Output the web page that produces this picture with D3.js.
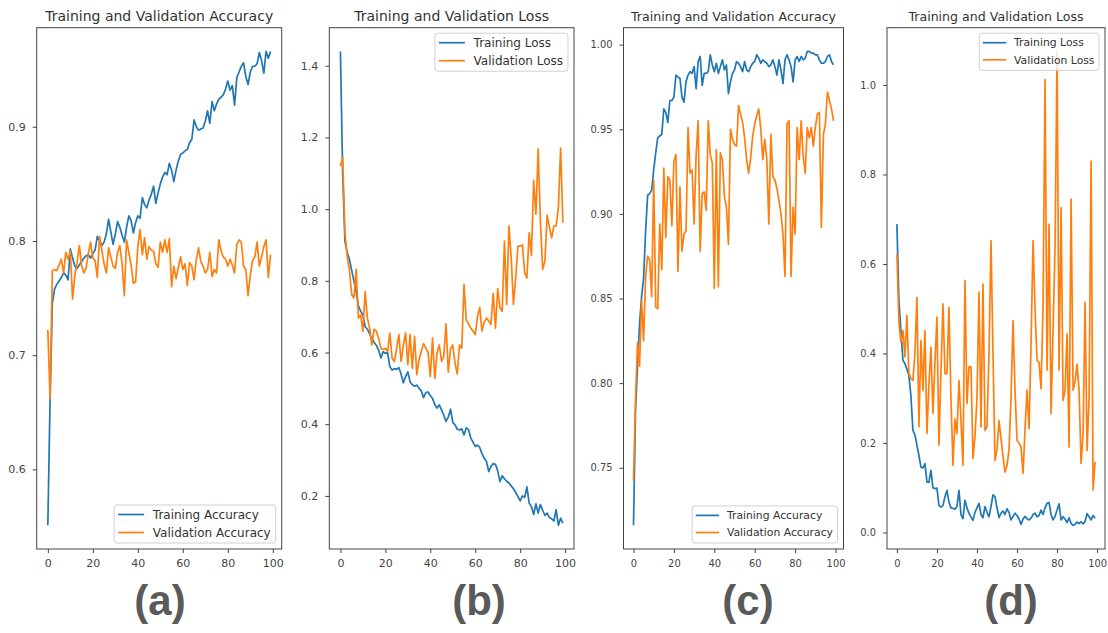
<!DOCTYPE html>
<html>
<head>
<meta charset="utf-8">
<script src="https://cdn.jsdelivr.net/npm/d3@7"></script>
<style>
  body { margin: 0; background: #fff; }
  svg { display: block; font-family: "DejaVu Sans", sans-serif; }
</style>
</head>
<body>
<svg id="chart" width="1108" height="633"></svg>
<script>
// epoch index on the x axis
var epochs = d3.range(100);

// (a) accuracy, first model
var trainAccA = [0.551,0.662,0.745,0.758,0.762,0.765,0.768,0.772,0.770,0.766,
  0.793,0.785,0.778,0.776,0.779,0.782,0.785,0.787,0.788,0.785,
  0.789,0.792,0.804,0.800,0.796,0.799,0.806,0.819,0.808,0.797,
  0.806,0.817,0.812,0.805,0.799,0.812,0.822,0.818,0.807,0.816,
  0.822,0.820,0.838,0.832,0.829,0.836,0.841,0.848,0.833,0.842,
  0.850,0.856,0.860,0.858,0.868,0.862,0.852,0.862,0.870,0.876,
  0.877,0.879,0.880,0.886,0.889,0.906,0.900,0.897,0.898,0.899,
  0.905,0.914,0.903,0.922,0.914,0.920,0.924,0.926,0.928,0.933,
  0.940,0.932,0.936,0.919,0.943,0.948,0.953,0.956,0.944,0.937,
  0.948,0.953,0.953,0.955,0.965,0.958,0.947,0.966,0.960,0.966];
var valAccA = [0.722,0.662,0.774,0.775,0.774,0.779,0.784,0.772,0.790,0.784,
  0.791,0.749,0.770,0.781,0.796,0.779,0.772,0.776,0.789,0.799,
  0.785,0.783,0.768,0.804,0.792,0.780,0.772,0.794,0.786,0.778,
  0.776,0.790,0.796,0.780,0.752,0.801,0.790,0.779,0.763,0.764,
  0.795,0.810,0.788,0.803,0.784,0.795,0.792,0.791,0.780,0.777,
  0.799,0.790,0.801,0.790,0.802,0.760,0.778,0.767,0.777,0.786,
  0.775,0.780,0.761,0.781,0.778,0.766,0.784,0.794,0.782,0.778,
  0.772,0.775,0.790,0.769,0.775,0.772,0.801,0.791,0.786,0.784,
  0.778,0.784,0.779,0.772,0.797,0.801,0.799,0.778,0.775,0.752,
  0.770,0.783,0.786,0.799,0.778,0.786,0.795,0.801,0.768,0.788];

// (b) loss, first model
var trainLossB = [1.440,1.100,0.911,0.880,0.860,0.830,0.800,0.770,0.730,0.715,
  0.705,0.672,0.665,0.652,0.640,0.628,0.620,0.607,0.585,0.602,
  0.598,0.600,0.560,0.551,0.555,0.553,0.558,0.540,0.515,0.533,
  0.546,0.518,0.510,0.506,0.509,0.500,0.493,0.474,0.488,0.490,
  0.480,0.472,0.455,0.445,0.454,0.440,0.425,0.408,0.420,0.442,
  0.405,0.398,0.386,0.384,0.387,0.370,0.390,0.385,0.362,0.350,
  0.338,0.342,0.335,0.318,0.305,0.296,0.268,0.282,0.290,0.288,
  0.270,0.240,0.256,0.248,0.241,0.236,0.228,0.220,0.210,0.198,
  0.186,0.200,0.196,0.225,0.180,0.170,0.148,0.178,0.152,0.176,
  0.160,0.146,0.152,0.140,0.136,0.130,0.162,0.118,0.138,0.124];
var valLossB = [1.120,1.145,0.935,0.870,0.830,0.762,0.752,0.832,0.696,0.705,
  0.659,0.770,0.696,0.668,0.621,0.665,0.659,0.640,0.612,0.608,
  0.612,0.603,0.654,0.584,0.575,0.610,0.650,0.575,0.621,0.655,
  0.566,0.650,0.556,0.645,0.538,0.580,0.603,0.625,0.612,0.600,
  0.533,0.640,0.528,0.600,0.621,0.575,0.590,0.680,0.545,0.610,
  0.621,0.570,0.540,0.621,0.612,0.790,0.690,0.680,0.668,0.660,
  0.650,0.700,0.726,0.660,0.685,0.696,0.688,0.678,0.765,0.668,
  0.778,0.725,0.715,0.911,0.734,0.953,0.864,0.734,0.808,0.897,
  0.897,0.900,0.822,0.808,0.934,0.870,1.080,0.986,1.168,0.967,
  0.832,0.855,0.983,0.950,0.920,0.953,0.953,1.005,1.170,0.962];

// (c) accuracy, second model
var trainAccC = [0.716,0.784,0.810,0.835,0.851,0.862,0.890,0.911,0.912,0.914,
  0.926,0.936,0.945,0.946,0.947,0.962,0.960,0.954,0.967,0.967,
  0.969,0.982,0.981,0.980,0.969,0.966,0.978,0.982,0.984,0.983,
  0.987,0.974,0.990,0.993,0.976,0.983,0.983,0.984,0.994,0.988,
  0.984,0.989,0.983,0.987,0.991,0.985,0.988,0.971,0.978,0.983,
  0.985,0.990,0.989,0.987,0.984,0.990,0.985,0.984,0.987,0.989,
  0.990,0.994,0.992,0.989,0.991,0.990,0.989,0.987,0.988,0.991,
  0.987,0.982,0.991,0.985,0.977,0.991,0.994,0.991,0.987,0.978,
  0.991,0.993,0.990,0.993,0.991,0.992,0.996,0.996,0.995,0.995,
  0.994,0.994,0.991,0.989,0.989,0.990,0.993,0.994,0.990,0.988];
var valAccC = [0.742,0.790,0.824,0.810,0.849,0.825,0.863,0.875,0.873,0.851,
  0.920,0.845,0.844,0.894,0.867,0.927,0.886,0.922,0.920,0.893,
  0.931,0.935,0.866,0.916,0.878,0.888,0.890,0.951,0.924,0.926,
  0.894,0.935,0.955,0.878,0.912,0.913,0.902,0.955,0.935,0.930,
  0.856,0.938,0.857,0.936,0.932,0.910,0.904,0.882,0.950,0.944,
  0.941,0.940,0.964,0.959,0.954,0.945,0.932,0.924,0.933,0.946,
  0.953,0.958,0.962,0.950,0.932,0.944,0.932,0.894,0.947,0.922,
  0.920,0.915,0.908,0.900,0.888,0.863,0.953,0.955,0.863,0.904,
  0.888,0.951,0.932,0.955,0.934,0.924,0.951,0.945,0.951,0.940,
  0.951,0.959,0.960,0.892,0.947,0.953,0.972,0.967,0.962,0.955];

// (d) loss, second model
var trainLossD = [0.689,0.518,0.451,0.385,0.377,0.365,0.350,0.305,0.228,0.218,
  0.195,0.172,0.146,0.144,0.154,0.113,0.112,0.139,0.100,0.098,
  0.099,0.060,0.057,0.060,0.080,0.094,0.068,0.055,0.054,0.052,
  0.058,0.094,0.040,0.031,0.072,0.055,0.043,0.035,0.027,0.045,
  0.055,0.065,0.040,0.033,0.058,0.045,0.035,0.058,0.084,0.080,
  0.055,0.033,0.043,0.048,0.040,0.053,0.045,0.028,0.036,0.043,
  0.038,0.030,0.018,0.030,0.036,0.031,0.028,0.032,0.040,0.043,
  0.035,0.038,0.050,0.040,0.055,0.065,0.067,0.040,0.028,0.036,
  0.050,0.064,0.028,0.035,0.030,0.022,0.033,0.020,0.016,0.018,
  0.023,0.020,0.024,0.019,0.025,0.042,0.035,0.028,0.038,0.032];
var valLossD = [0.622,0.470,0.425,0.451,0.392,0.485,0.355,0.344,0.340,0.400,
  0.525,0.236,0.429,0.317,0.451,0.221,0.330,0.414,0.266,0.380,
  0.481,0.195,0.360,0.511,0.355,0.355,0.503,0.300,0.150,0.254,
  0.221,0.340,0.250,0.150,0.563,0.288,0.370,0.370,0.165,0.215,
  0.300,0.537,0.236,0.555,0.228,0.236,0.400,0.652,0.400,0.161,
  0.184,0.250,0.210,0.170,0.135,0.150,0.184,0.300,0.473,0.318,
  0.206,0.200,0.191,0.132,0.230,0.318,0.232,0.420,0.652,0.500,
  0.384,0.380,0.321,0.500,1.012,0.363,0.689,0.266,0.450,0.640,
  1.075,0.363,0.726,0.295,0.318,0.444,0.191,0.745,0.318,0.336,
  0.376,0.318,0.154,0.220,0.514,0.183,0.300,0.830,0.095,0.158];

// ticks and labels
var xTicks = [0, 20, 40, 60, 80, 100];
var yTicksA = [0.6, 0.7, 0.8, 0.9];
var yTicksB = [0.2, 0.4, 0.6, 0.8, 1.0, 1.2, 1.4];
var yTicksC = [0.75, 0.80, 0.85, 0.90, 0.95, 1.00];
var yTicksD = [0.0, 0.2, 0.4, 0.6, 0.8, 1.0];
var accTitle = "Training and Validation Accuracy";
var lossTitle = "Training and Validation Loss";
var accNames = ["Training Accuracy", "Validation Accuracy"];
var lossNames = ["Training Loss", "Validation Loss"];
var panelLabels = ["(a)", "(b)", "(c)", "(d)"];

var blue = "#1f77b4", orange = "#ff7f0e";
var plotTop = 27.7, plotBottom = 549;

// the right pair of sub-figures was pasted in a little smaller (s = text scale)
var panels = [
  {left: 36.7, right: 281.7, s: 1, train: trainAccA, val: valAccA, ticks: yTicksA, fmt: ".1f",
   title: accTitle, names: accNames, legendAt: "bottom", label: panelLabels[0], labelX: 160},
  {left: 329.3, right: 574, s: 1, train: trainLossB, val: valLossB, ticks: yTicksB, fmt: ".1f",
   title: lossTitle, names: lossNames, legendAt: "top", label: panelLabels[1], labelX: 479},
  {left: 623.5, right: 843.5, s: 0.9, train: trainAccC, val: valAccC, ticks: yTicksC, fmt: ".2f",
   title: accTitle, names: accNames, legendAt: "bottom", label: panelLabels[2], labelX: 748},
  {left: 887, right: 1105, s: 0.9, train: trainLossD, val: valLossD, ticks: yTicksD, fmt: ".1f",
   title: lossTitle, names: lossNames, legendAt: "top", label: panelLabels[3], labelX: 1011}
];

var svg = d3.select("#chart");

panels.forEach(function(p) {
  var g = svg.append("g");
  var s = p.s;

  // matplotlib style 5% margins
  var ext = d3.extent(p.train.concat(p.val));
  var pad = (ext[1] - ext[0]) * 0.05;
  var y = d3.scaleLinear().domain([ext[0] - pad, ext[1] + pad]).range([plotBottom, plotTop]);
  var x = d3.scaleLinear().domain([-4.95, 103.95]).range([p.left, p.right]);

  var xAxis = g.append("g")
      .attr("transform", "translate(0," + plotBottom + ")")
      .call(d3.axisBottom(x).tickValues(xTicks).tickSize(4).tickPadding(6.5));
  var yAxis = g.append("g")
      .attr("transform", "translate(" + p.left + ",0)")
      .call(d3.axisLeft(y).tickValues(p.ticks).tickFormat(d3.format(p.fmt)).tickSize(4).tickPadding(7));
  [xAxis, yAxis].forEach(function(a) {
    a.select(".domain").remove();
    a.selectAll("line").attr("stroke", "#444");
    a.selectAll("text")
        .attr("fill", "#444")
        .style("font-family", "'DejaVu Sans', sans-serif")
        .style("font-size", (11 * s) + "px");
  });

  var line = d3.line()
      .x(function(d, i) { return x(epochs[i]); })
      .y(function(d) { return y(d); });

  g.append("path").datum(p.train)
      .attr("d", line).attr("fill", "none")
      .attr("stroke", blue).attr("stroke-width", 1.7).attr("stroke-linejoin", "round");
  g.append("path").datum(p.val)
      .attr("d", line).attr("fill", "none")
      .attr("stroke", orange).attr("stroke-width", 1.7).attr("stroke-linejoin", "round");

  // spines
  g.append("rect")
      .attr("x", p.left).attr("y", plotTop)
      .attr("width", p.right - p.left).attr("height", plotBottom - plotTop)
      .attr("fill", "none").attr("stroke", "#444").attr("stroke-width", 1);

  g.append("text")
      .attr("x", (p.left + p.right) / 2).attr("y", 20.5)
      .attr("text-anchor", "middle")
      .attr("fill", "#333")
      .style("font-size", (14 * s) + "px")
      .text(p.title);

  // legend
  var leg = g.append("g");
  var box = leg.append("rect")
      .attr("fill", "#fff").attr("fill-opacity", 0.8)
      .attr("stroke", "#d0d0d0").attr("rx", 3);
  var maxLen = 0;
  var rowGap = 18 * (s === 1 ? 1 : 0.95);
  p.names.forEach(function(name, k) {
    var ry = 9.5 + k * rowGap;
    var t = leg.append("text")
        .attr("x", 38.7 * s).attr("y", ry).attr("dy", "0.35em")
        .attr("fill", "#333").style("font-size", (12 * s) + "px")
        .text(name);
    maxLen = Math.max(maxLen, t.node().getComputedTextLength());
    leg.append("line")
        .attr("x1", 4 * s).attr("x2", 30 * s)
        .attr("y1", ry).attr("y2", ry)
        .attr("stroke", k === 0 ? blue : orange).attr("stroke-width", 1.7);
  });
  var legW = 38.7 * s + maxLen + 5 * s, legH = 19 + rowGap + 1;
  box.attr("x", 0).attr("y", 0).attr("width", legW).attr("height", legH);
  var legY = p.legendAt === "top" ? plotTop + 5.5 : plotBottom - 6 - legH;
  leg.attr("transform", "translate(" + (p.right - 6 - legW) + "," + legY + ")");

  // panel letter
  svg.append("text")
      .attr("x", p.labelX).attr("y", 615)
      .attr("text-anchor", "middle")
      .attr("fill", "#5a5a5a")
      .style("font-family", "'Liberation Sans', Arial, sans-serif")
      .style("font-weight", "bold")
      .style("font-size", "42px")
      .text(p.label);
});
</script>
</body>
</html>
